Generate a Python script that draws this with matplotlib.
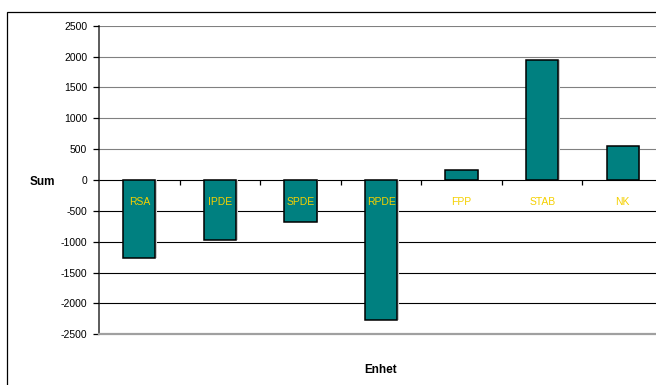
import matplotlib
matplotlib.use("Agg")
import matplotlib.pyplot as plt
from matplotlib.patches import Rectangle
import numpy as np

categories = ["RSA", "IPDE", "SPDE", "RPDE", "FPP", "STAB", "NK"]
values = [-1265, -975, -680, -2265, 165, 1945, 555]
yticks = [2500, 2000, 1500, 1000, 500, 0, -500, -1000, -1500, -2000, -2500]

W, H = 656, 385
fig = plt.figure(figsize=(W / 100, H / 100), dpi=100)
plt.rcParams['font.family'] = ['Liberation Sans', 'DejaVu Sans']

# outer chart frame (extends past the right and bottom edges)
fig.patches.append(Rectangle((7 / W, -0.1), 1.2, (H - 12) / H + 0.1,
                             transform=fig.transFigure, fill=False,
                             edgecolor='black', linewidth=0.9))

x0, x1 = 99, 663
ytop, ybot = 25.7, 334.3
ax = fig.add_axes([x0 / W, (H - ybot) / H, (x1 - x0) / W, (ybot - ytop) / H])
ax.set_facecolor('none')

x = np.arange(len(categories))
ax.set_xlim(-0.5, len(categories) - 0.5)
ax.set_ylim(-2500, 2500)

# gridlines
for t in yticks:
    col = '#808080' if t > 0 else 'black'
    ax.axhline(t, color=col, linewidth=0.8, zorder=1)

# bar shadows
ax.bar(x + 0.02, values, width=0.4, color='#cccccc', edgecolor='none', zorder=1.5)
ax.bar(x, values, width=0.4, color='#008080', edgecolor='black', linewidth=1.1, zorder=2)

for s in ['top', 'right']:
    ax.spines[s].set_visible(False)
ax.spines['left'].set_color('#404040')
ax.spines['left'].set_linewidth(1.2)
ax.spines['bottom'].set_position(('data', 0))
ax.spines['bottom'].set_visible(False)
ax.axhline(-2500, color='#a0a0a0', linewidth=1.6, zorder=3, clip_on=False)
ax.set_axisbelow(False)

ax.set_yticks(yticks)
ax.set_yticklabels([str(t) for t in yticks])
ax.tick_params(axis='y', direction='out', length=4, width=0.9, pad=4.5,
               labelsize=7.5, colors='black')

ax.set_xticks(x)
ax.set_xticklabels(categories)
ax.set_xticks(x[:-1] + 0.5, minor=True)
ax.tick_params(axis='x', which='major', length=0, pad=12, labelsize=7.5,
               labelcolor='#F5D000')
ax.tick_params(axis='x', which='minor', direction='out', length=3.5, width=0.9,
               colors='black')

fig.text(42 / W, 1 - 182 / H, "Sum", ha='center', va='center',
         fontsize=8.5, fontweight='bold')
fig.text(381 / W, 1 - 370 / H, "Enhet", ha='center', va='center',
         fontsize=8.5, fontweight='bold')

fig.savefig("out.png", dpi=100)
